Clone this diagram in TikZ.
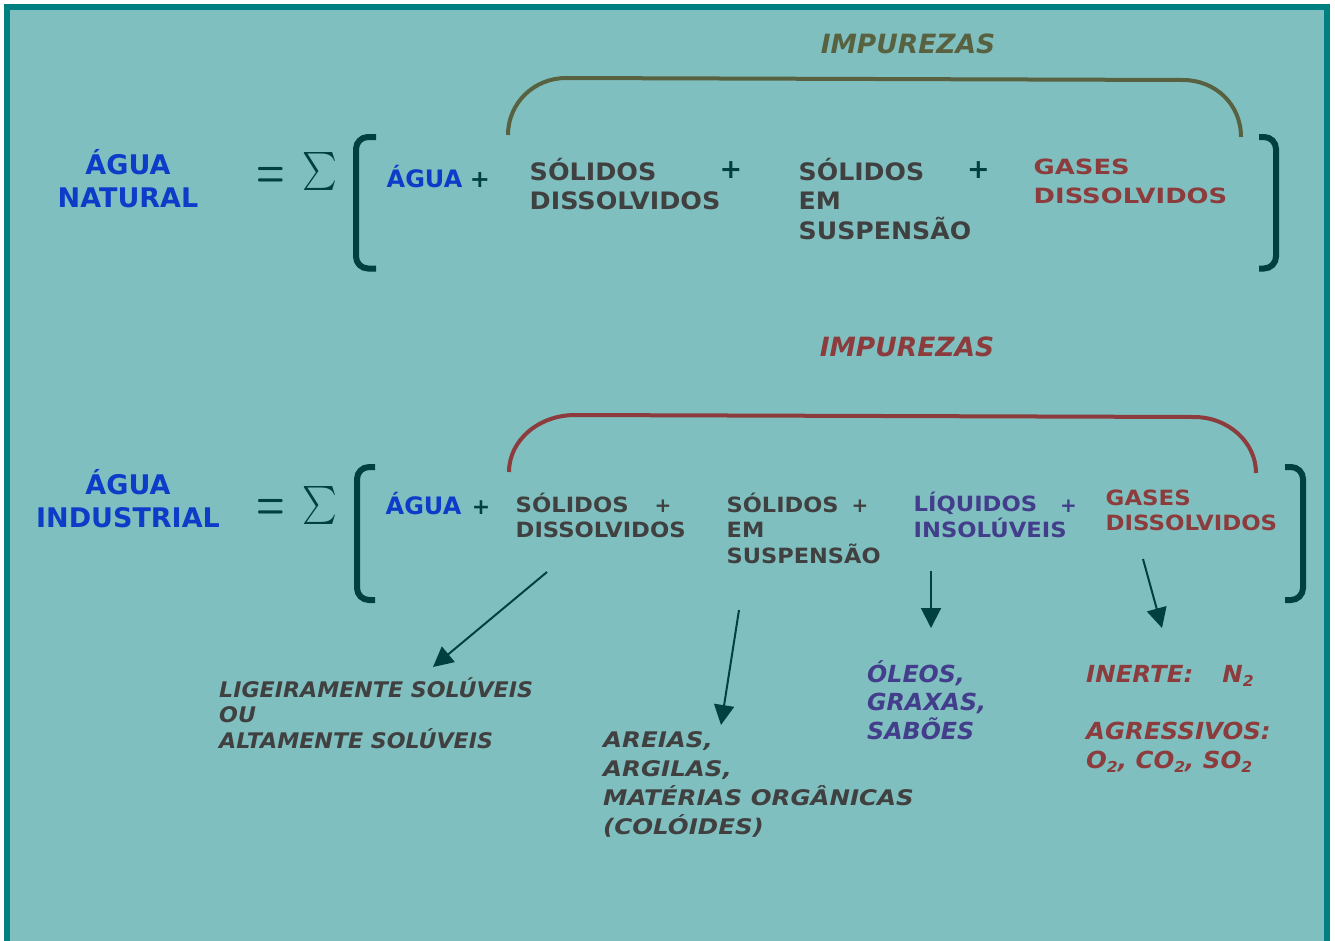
\documentclass[tikz,border=0pt]{standalone}
\usepackage[no-math]{fontspec}
\setmainfont{DejaVu Sans}
\usepackage{graphicx}
\usetikzlibrary{arrows.meta}

\definecolor{panel}{RGB}{128,191,191}
\definecolor{frame}{RGB}{0,128,128}
\definecolor{ink}{RGB}{0,64,64}
\definecolor{water}{RGB}{12,60,200}
\definecolor{solid}{RGB}{64,64,64}
\definecolor{gas}{RGB}{140,60,60}
\definecolor{oil}{RGB}{66,62,140}
\definecolor{olive}{RGB}{88,98,64}

% left-aligned block of lines: #1 horizontal stretch, #2 line pitch, #3 rows
\newcommand\rowsL[3]{\scalebox{#1}[1]{\vtop{\baselineskip=#2\lineskiplimit=-100pt\lineskip=0pt\halign{##\hfil\cr#3\crcr}}}}
% centred block of lines
\newcommand\rowsC[2]{\vtop{\baselineskip=#1\lineskiplimit=-100pt\lineskip=0pt\halign{\hfil##\hfil\cr#2\crcr}}}
\newcommand\fs[1]{\fontsize{#1}{#1}\selectfont}
\newcommand\subtwo{\raisebox{-4pt}{\fs{15}2}}

\tikzset{
  lbl/.style={inner sep=0pt, anchor=base west, font=\bfseries\fs{#1}},
  lbl/.default=24,
  note/.style={inner sep=0pt, anchor=base west, font=\bfseries\itshape\fs{#1}},
  side/.style={inner sep=0pt, anchor=base, text=water, font=\bfseries\fs{27}},
  title/.style={inner sep=0pt, anchor=base, font=\bfseries\itshape\fs{26.5}},
  plus/.style={inner sep=0pt, anchor=center, font=\bfseries\fs{#1}},
  op/.style={inner sep=0pt, text=ink, font=\normalsize},
  brk/.style={draw=ink, line width=6pt, rounded corners=12pt},
  brace/.style={line width=4pt},
  arr/.style={draw=ink, line width=2pt, -{Triangle[length=20pt,width=20pt]}},
}

\begin{document}
\begin{tikzpicture}[x=1pt,y=-1pt]
\useasboundingbox (0,0) rectangle (1335,940);
\fill[white] (0,0) rectangle (1335,940);
\draw[draw=frame, fill=panel, line width=6pt] (7,7) rectangle (1327,990);

% ---------- natural water ----------
\node[title, text=olive] (imp1) at (908,53.3) {IMPUREZAS};
\draw[brace, draw=olive] (508,135) .. controls (508,103) and (534,78) .. (566,78)
  -- (1183,80) .. controls (1215,80) and (1241,104) .. (1241,137);

\node[side] (nat) at (128,174) {\rowsC{33pt}{ÁGUA\cr NATURAL}};
\node[op, anchor=base] (eq1) at (271,187.3) {\scalebox{3.2}[5.1]{\boldmath$=$}};
\node[op, anchor=center] (sum1) at (320,171.5) {\scalebox{3.3}[3.8]{$\textstyle\sum$}};
\draw[brk] (376,137) -- (356,137) -- (356,268.5) -- (376,268.5);
\draw[brk] (1259,137) -- (1276,137) -- (1276,268.5) -- (1259,268.5);

\node[lbl, text=water] (ag1) at (386.5,187) {ÁGUA};
\node[plus=24, text=ink] (p1a) at (480,180) {+};
\node[lbl, text=solid] (sd1) at (529.5,180) {\rowsL{1.06}{29pt}{SÓLIDOS\cr DISSOLVIDOS}};
\node[plus=27, text=ink] (p1b) at (731,170.5) {+};
\node[lbl, text=solid] (ss1) at (798.5,180) {\rowsL{1.05}{29.5pt}{SÓLIDOS\cr EM\cr SUSPENSÃO}};
\node[plus=27, text=ink] (p1c) at (978.5,170.5) {+};
\node[lbl=21, text=gas] (gd1) at (1033.5,174) {\rowsL{1.23}{29pt}{GASES\cr DISSOLVIDOS}};

% ---------- industrial water ----------
\node[title, text=gas] (imp2) at (907,356) {IMPUREZAS};
\draw[brace, draw=gas] (509,472) .. controls (509,440) and (539,415) .. (575,415)
  -- (1194,417) .. controls (1228,417) and (1256,442) .. (1256,473);

\node[side] (ind) at (128,494) {\rowsC{33pt}{ÁGUA\cr INDUSTRIAL}};
\node[op, anchor=base] (eq2) at (271,519.8) {\scalebox{3.2}[5.1]{\boldmath$=$}};
\node[op, anchor=center] (sum2) at (320,505) {\scalebox{3.3}[3.8]{$\textstyle\sum$}};
\draw[brk] (375,467) -- (357,467) -- (357,600) -- (375,600);
\draw[brk] (1285,467) -- (1303,467) -- (1303,600) -- (1285,600);

\node[lbl=24, text=water] (ag2) at (385.5,514) {ÁGUA};
\node[plus=22, text=ink] (p2a) at (481,508) {+};
\node[lbl=21, text=solid] (sd2) at (515.5,512) {\rowsL{1.08}{25pt}{SÓLIDOS\cr DISSOLVIDOS}};
\node[plus=20, text=solid] (p2b) at (663,506.5) {+};
\node[lbl=21, text=solid] (ss2) at (726.5,512) {\rowsL{1.07}{25.5pt}{SÓLIDOS\cr EM\cr SUSPENSÃO}};
\node[plus=20, text=solid] (p2c) at (860,506) {+};
\node[lbl=21, text=oil] (li2) at (913.5,511) {\rowsL{1.08}{26pt}{LÍQUIDOS\cr INSOLÚVEIS}};
\node[plus=20, text=oil] (p2d) at (1068.5,506) {+};
\node[lbl=21, text=gas] (gd2) at (1105.5,505) {\rowsL{1.09}{25pt}{GASES\cr DISSOLVIDOS}};

% ---------- what each impurity consists of ----------
\node[note=21.5, text=solid] (lig) at (219,697)
  {\rowsL{1.03}{25.5pt}{LIGEIRAMENTE SOLÚVEIS\cr OU\cr ALTAMENTE SOLÚVEIS}};
\node[note=21.5, text=solid] (are) at (603,747)
  {\rowsL{1.14}{29.3pt}{AREIAS,\cr ARGILAS,\cr MATÉRIAS ORGÂNICAS\cr (COLÓIDES)}};
\node[note=23.5, text=oil] (ole) at (867,682)
  {\rowsL{1.01}{28.5pt}{ÓLEOS,\cr GRAXAS,\cr SABÕES}};
\node[note=23.5, text=gas] (gas) at (1086,682)
  {\rowsL{1.04}{28.7pt}{INERTE:\hspace{28pt}N\subtwo\cr{}\cr AGRESSIVOS:\cr O\subtwo, CO\subtwo, SO\subtwo}};

\coordinate (a1s) at (547,572);  \coordinate (a1e) at (433,667);
\coordinate (a2s) at (739,610);  \coordinate (a2e) at (721,725);
\coordinate (a3s) at (931,571);  \coordinate (a3e) at (931,628);
\coordinate (a4s) at (1143,559); \coordinate (a4e) at (1162,628);
\draw[arr] (a1s) -- (a1e);
\draw[arr] (a2s) -- (a2e);
\draw[arr] (a3s) -- (a3e);
\draw[arr] (a4s) -- (a4e);
\end{tikzpicture}
\end{document}
